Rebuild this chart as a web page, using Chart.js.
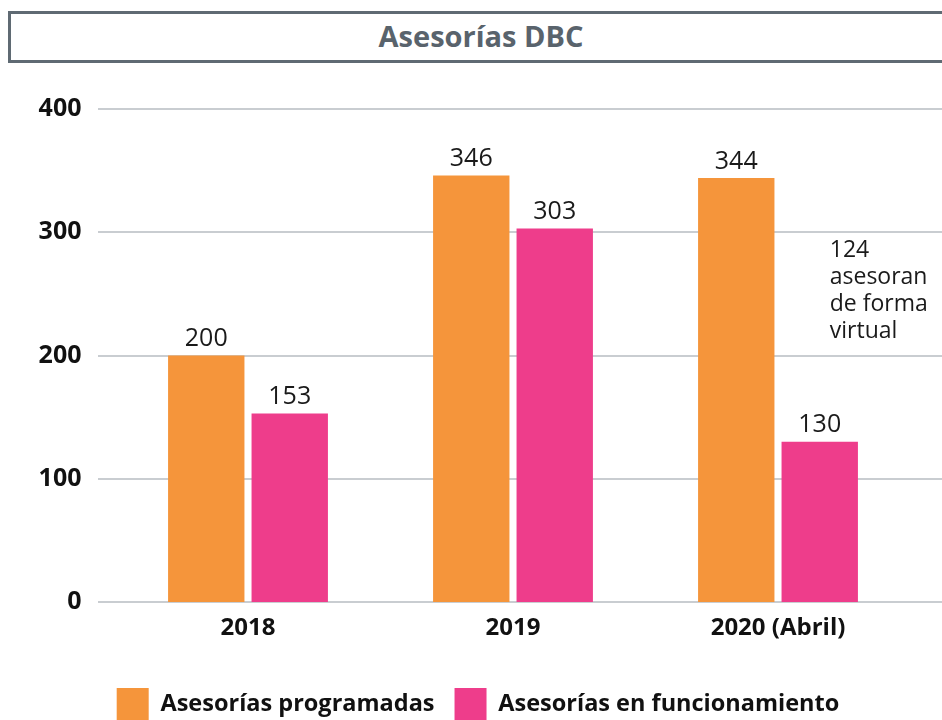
<!DOCTYPE html>
<html><head><meta charset="utf-8">
<script src="https://cdn.jsdelivr.net/npm/chart.js@4/dist/chart.umd.min.js"></script>
<style>
html,body{margin:0;padding:0;background:#fff;overflow:hidden;}
#wrap{position:relative;width:942px;height:720px;}
#title{position:absolute;left:8px;top:11px;width:940px;height:46px;border:3px solid #5f6a73;box-sizing:content-box;
 font-family:"Open Sans",sans-serif;font-weight:700;font-size:29px;color:#59636c;text-align:center;line-height:44px;}
canvas{position:absolute;left:0;top:0;}
</style></head>
<body><div id="wrap"><div id="title">Asesorías DBC</div><canvas id="c" width="942" height="720"></canvas></div>
<script>
const categories = ["2018", "2019", "2020 (Abril)"];
const programadas = [200, 346, 344];
const funcionamiento = [153, 303, 130];
const seriesNames = ["Asesorías programadas", "Asesorías en funcionamiento"];
const yTicks = [0, 100, 200, 300, 400];
const noteLines = ["124", "asesoran", "de forma", "virtual"];

const FONT = '"Open Sans", sans-serif';

const gridPlugin = {
  id: 'extGrid',
  beforeDatasetsDraw(chart) {
    const ctx = chart.ctx, y = chart.scales.y;
    ctx.save();
    ctx.strokeStyle = '#c9cdd1';
    ctx.lineWidth = 2;
    yTicks.forEach(v => {
      const py = Math.round(y.getPixelForValue(v));
      ctx.beginPath(); ctx.moveTo(98, py); ctx.lineTo(942, py); ctx.stroke();
    });
    ctx.restore();
  }
};

const labelPlugin = {
  id: 'valLabels',
  afterDatasetsDraw(chart) {
    const ctx = chart.ctx;
    ctx.save();
    ctx.font = '400 25px ' + FONT;
    ctx.fillStyle = '#1a1a1a';
    ctx.textAlign = 'center';
    ctx.textBaseline = 'bottom';
    chart.data.datasets.forEach((ds, di) => {
      chart.getDatasetMeta(di).data.forEach((bar, i) => {
        ctx.fillText(String(ds.data[i]), bar.x, bar.y - 4);
      });
    });
    // note
    const meta = chart.getDatasetMeta(1).data[2];
    ctx.font = '400 23px ' + FONT;
    ctx.textAlign = 'left';
    ctx.textBaseline = 'middle';
    const x0 = meta.x + 10;
    const yTop = chart.scales.y.getPixelForValue(285);
    noteLines.forEach((t, k) => ctx.fillText(t, x0, yTop + k * 27));
    ctx.restore();
  }
};

new Chart(document.getElementById('c'), {
  type: 'bar',
  data: {
    labels: categories,
    datasets: [
      { label: seriesNames[0], data: programadas, backgroundColor: '#f5953b', categoryPercentage: 0.63, barPercentage: 0.915 },
      { label: seriesNames[1], data: funcionamiento, backgroundColor: '#ee3d8b', categoryPercentage: 0.63, barPercentage: 0.915 }
    ]
  },
  options: {
    responsive: false,
    animation: false,
    layout: { padding: { left: 14, right: 0, top: 109, bottom: -10 } },
    scales: {
      x: {
        grid: { display: false, drawTicks: false },
        border: { display: false },
        ticks: { font: { family: FONT, weight: '700', size: 24 }, color: '#111', padding: 12 },
        afterFit(s) { s.height = 66; }
      },
      y: {
        min: 0, max: 400,
        grid: { display: false, drawTicks: false },
        border: { display: false },
        ticks: { stepSize: 100, font: { family: FONT, weight: '700', size: 25 }, color: '#111', padding: 34 },
        afterFit(s) { s.width = 101.5; }
      },
      yPad: {
        type: 'linear', position: 'right', display: true,
        grid: { display: false, drawTicks: false },
        border: { display: false },
        ticks: { display: false },
        afterFit(s) { s.width = 31.5; }
      }
    },
    plugins: {
      legend: {
        position: 'bottom',
        labels: { boxWidth: 32, boxHeight: 32, padding: 20, color: '#111',
          font: { family: FONT, weight: '700', size: 23.5 } }
      },
      tooltip: { enabled: false }
    }
  },
  plugins: [gridPlugin, labelPlugin]
});
</script></body></html>
